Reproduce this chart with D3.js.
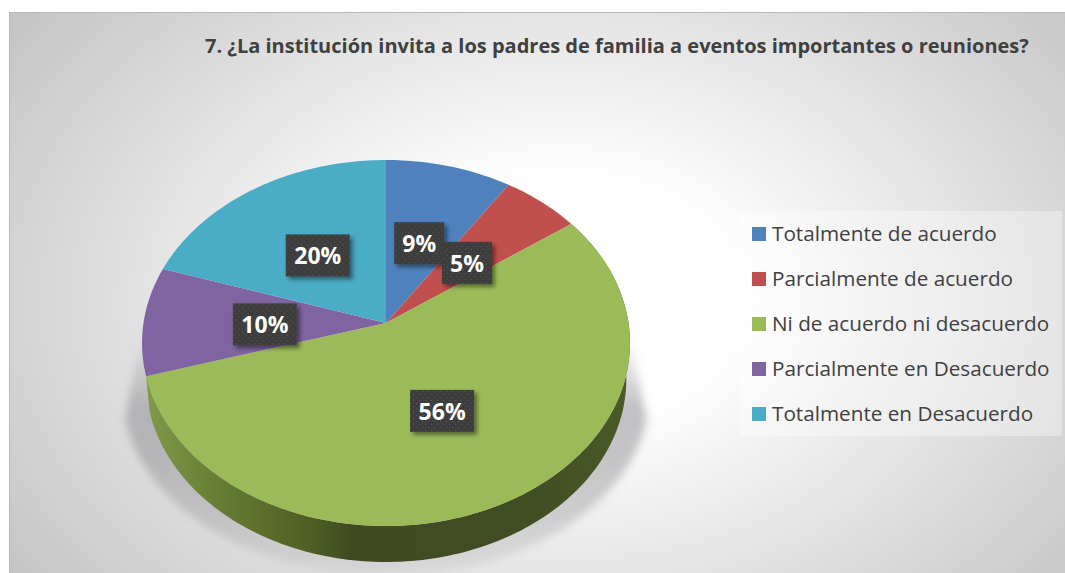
<!DOCTYPE html>
<html>
<head>
<meta charset="utf-8">
<script src="https://cdn.jsdelivr.net/npm/d3@7"></script>
<style>
  html, body { margin: 0; padding: 0; background: #fff; overflow: hidden; }
  svg { display: block; }
  text { font-family: "Open Sans", sans-serif; }
</style>
</head>
<body>
<div id="chart"></div>
<script>
const chartTitle = "7. ¿La institución invita a los padres de familia a eventos importantes o reuniones?";
const categories = ["Totalmente de acuerdo", "Parcialmente de acuerdo", "Ni de acuerdo ni desacuerdo", "Parcialmente en Desacuerdo", "Totalmente en Desacuerdo"];
// slice sizes, the printed labels are rounded differently
const sliceValues = [9.3, 5.8, 55.3, 9.6, 20];
const sliceLabels = ["9%", "5%", "56%", "10%", "20%"];
const colours = ["#4f81bd", "#c0504d", "#9bbb59", "#8064a2", "#4bacc6"];

const width = 1065, height = 573;
const frame = { left: 9, top: 12 };

const svg = d3.select("#chart").append("svg")
    .attr("width", width)
    .attr("height", height);

const defs = svg.append("defs");

const bg = defs.append("radialGradient")
    .attr("id", "bg")
    .attr("gradientUnits", "userSpaceOnUse")
    .attr("cx", 0).attr("cy", 0).attr("r", 1)
    .attr("gradientTransform", "translate(560,300) scale(680,480)");
bg.append("stop").attr("offset", 0.25).attr("stop-color", "#ffffff");
bg.append("stop").attr("offset", 1).attr("stop-color", "#c4c4c4");

const sideGrad = defs.append("linearGradient")
    .attr("id", "sideGreen")
    .attr("gradientUnits", "userSpaceOnUse")
    .attr("x1", 146).attr("x2", 630).attr("y1", 0).attr("y2", 0);
[[0, "#80994a"], [0.17, "#637a30"], [0.34, "#4f5f25"], [0.42, "#404b22"], [0.8, "#414d23"], [1, "#4a5a28"]]
    .forEach(([o, c]) => sideGrad.append("stop").attr("offset", o).attr("stop-color", c));

const shadowGrad = defs.append("linearGradient")
    .attr("id", "shadowFade")
    .attr("gradientUnits", "userSpaceOnUse")
    .attr("x1", 0).attr("x2", 0).attr("y1", 335).attr("y2", 575);
[[0, 0], [0.3, 0.55], [0.5, 0.5], [0.75, 0.35], [1, 0.12]]
    .forEach(([o, a]) => shadowGrad.append("stop")
        .attr("offset", o).attr("stop-color", "#8f8f94").attr("stop-opacity", a));

defs.append("filter").attr("id", "blur")
    .attr("x", "-10%").attr("y", "-10%").attr("width", "120%").attr("height", "120%")
    .append("feGaussianBlur").attr("stdDeviation", 4);

const drop = defs.append("filter").attr("id", "labelShadow")
    .attr("x", "-20%").attr("y", "-20%").attr("width", "150%").attr("height", "150%");
drop.append("feDropShadow")
    .attr("dx", 3).attr("dy", 3).attr("stdDeviation", 2)
    .attr("flood-color", "#000").attr("flood-opacity", 0.45);

const dots = defs.append("pattern")
    .attr("id", "dots")
    .attr("patternUnits", "userSpaceOnUse")
    .attr("width", 6).attr("height", 6);
dots.append("rect").attr("width", 6).attr("height", 6).attr("fill", "#3d3d3d");
dots.append("rect").attr("x", 1).attr("y", 1).attr("width", 1).attr("height", 1).attr("fill", "#5c5c5c");
dots.append("rect").attr("x", 4).attr("y", 4).attr("width", 1).attr("height", 1).attr("fill", "#5c5c5c");

svg.append("rect")
    .attr("x", frame.left).attr("y", frame.top)
    .attr("width", width - frame.left).attr("height", height - frame.top)
    .attr("fill", "url(#bg)");
svg.append("path")
    .attr("d", `M${frame.left + 0.5},${height}V${frame.top + 0.5}H${width}`)
    .attr("fill", "none").attr("stroke", "#b8b8b8");

svg.append("text")
    .attr("x", 205).attr("y", 53)
    .attr("font-size", 20).attr("font-weight", 700).attr("fill", "#404040")
    .text(chartTitle);

// pie seen in perspective: unit circle pushed through a homography
const pieCfg = { cx: 386, apexY: 323, sx: 242.5, sy: 145.5, tilt: -0.1093, depth: 36, lowScale: 0.985 };
const project = (angle, radius = 1) => {
    const ux = Math.sin(angle) * radius;
    const uy = -Math.cos(angle) * radius;
    const w = 1 + pieCfg.tilt * uy;
    return [pieCfg.cx + pieCfg.sx * ux / w, (pieCfg.apexY + pieCfg.sy * uy) / w];
};
const rimPoints = (a0, a1) => {
    const n = Math.max(2, Math.ceil(Math.abs(a1 - a0) / 0.02));
    return d3.range(n + 1).map(i => project(a0 + (a1 - a0) * i / n));
};
const line = d3.line();

const slices = d3.pie().sort(null).value(d => d)(sliceValues);
const biggest = slices[2];

// soft shadow under the pie, flares out and fades going up
const shadowPts = rimPoints(Math.PI * 0.58, Math.PI * 1.42)
    .map(([x, y]) => [pieCfg.cx + (x - pieCfg.cx) * 1.08, y + pieCfg.depth + 14]);
const flank = [[pieCfg.cx + 244, 335], [pieCfg.cx - 246, 335]];
svg.append("path")
    .attr("d", line(flank.slice(0, 1).concat(shadowPts, flank.slice(1))) + "Z")
    .attr("fill", "url(#shadowFade)")
    .attr("filter", "url(#blur)");

// side wall, only the green slice shows one
const sideTop = rimPoints(biggest.startAngle, biggest.endAngle);
const sideLow = sideTop
    .map(([x, y]) => [pieCfg.cx + (x - pieCfg.cx) * pieCfg.lowScale, y + pieCfg.depth])
    .reverse();
svg.append("path")
    .attr("d", line(sideTop.concat(sideLow)) + "Z")
    .attr("fill", "url(#sideGreen)");

svg.append("g").selectAll("path")
    .data(slices)
    .join("path")
    .attr("d", s => line([project(0, 0)].concat(rimPoints(s.startAngle, s.endAngle))) + "Z")
    .attr("fill", (s, i) => colours[i]);

// labels sit half way out along each slice
const boxH = 42;
const labels = svg.append("g").selectAll("g")
    .data(slices)
    .join("g")
    .attr("transform", s => {
        const [x, y] = project((s.startAngle + s.endAngle) / 2, 0.5);
        return `translate(${x},${y + 2.5})`;
    });
labels.append("rect")
    .attr("x", (s, i) => -(sliceLabels[i].length > 2 ? 32 : 25))
    .attr("y", -boxH / 2)
    .attr("width", (s, i) => sliceLabels[i].length > 2 ? 64 : 50)
    .attr("height", boxH)
    .attr("fill", "url(#dots)")
    .attr("filter", "url(#labelShadow)");
labels.append("text")
    .attr("text-anchor", "middle")
    .attr("dy", "0.38em")
    .attr("font-size", 23).attr("font-weight", 700).attr("fill", "#fff")
    .text((s, i) => sliceLabels[i]);

// legend
const legendY = d3.scalePoint().domain(categories).range([234, 414]);
svg.append("rect")
    .attr("x", 739).attr("y", 211).attr("width", 323).attr("height", 225)
    .attr("fill", "#fff").attr("fill-opacity", 0.35);
const legend = svg.append("g").selectAll("g")
    .data(categories)
    .join("g")
    .attr("transform", d => `translate(752,${legendY(d)})`);
legend.append("rect")
    .attr("y", -7).attr("width", 14).attr("height", 14)
    .attr("fill", (d, i) => colours[i]);
legend.append("text")
    .attr("x", 20).attr("dy", "0.35em")
    .attr("font-size", 20.7).attr("fill", "#404040")
    .text(d => d);
</script>
</body>
</html>
